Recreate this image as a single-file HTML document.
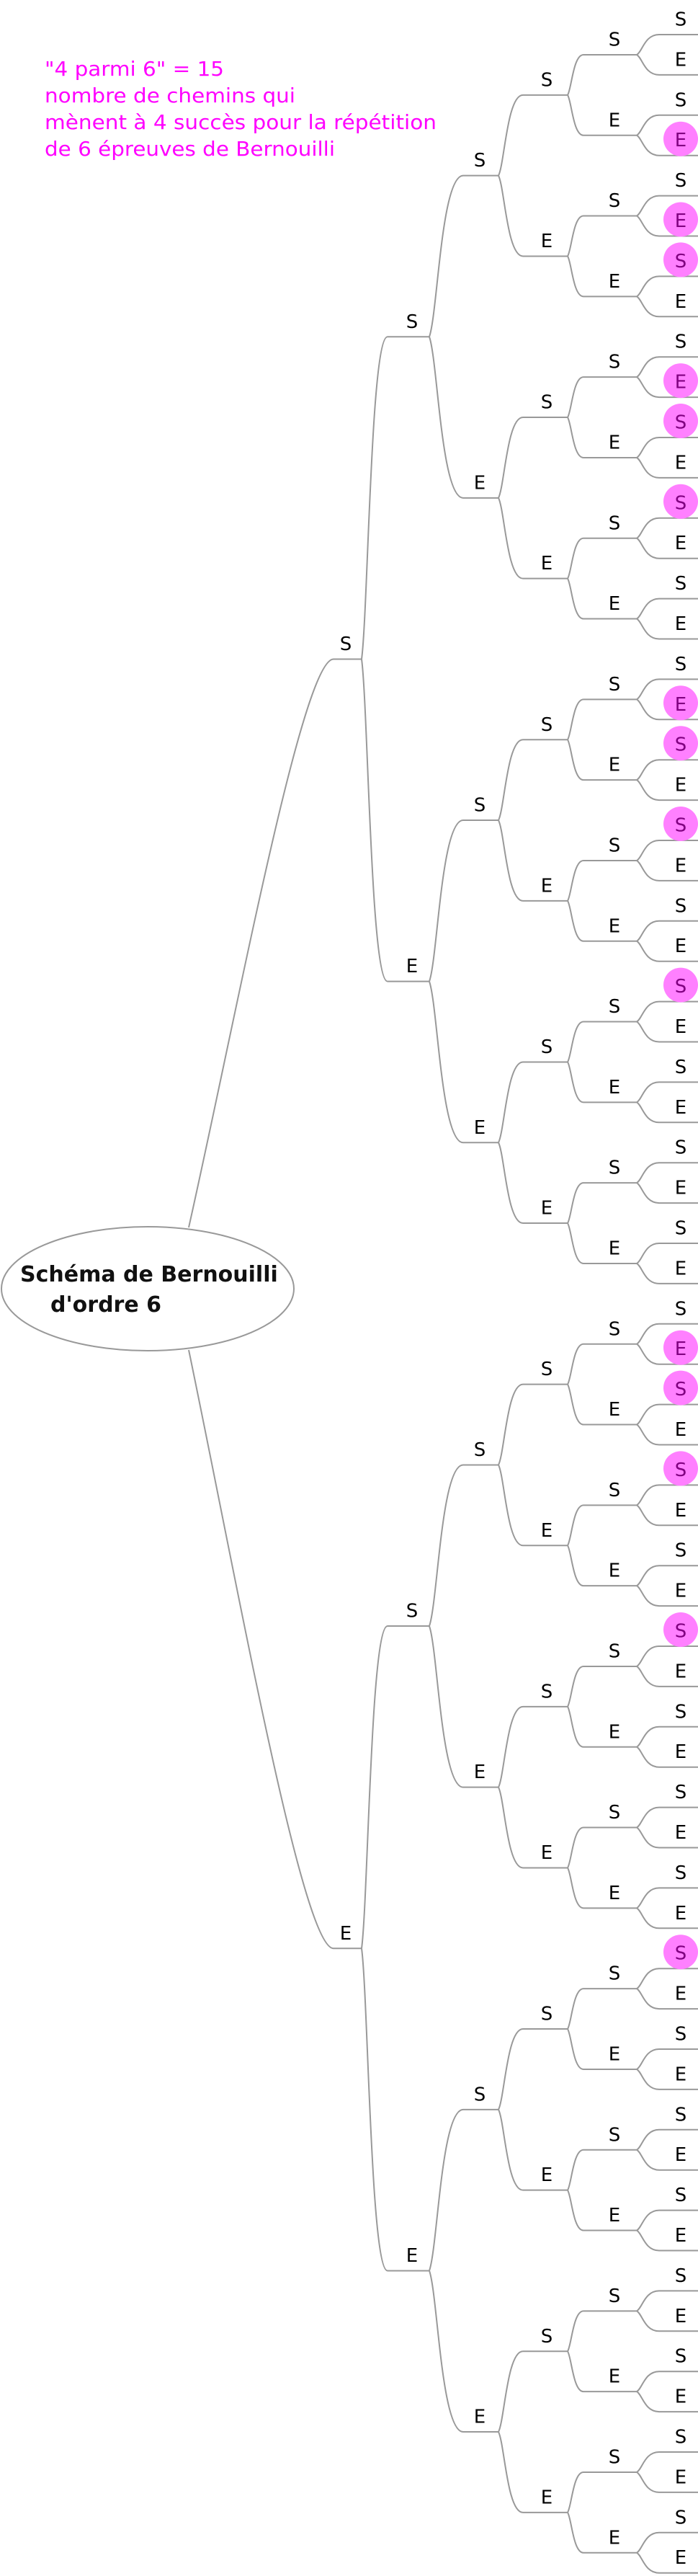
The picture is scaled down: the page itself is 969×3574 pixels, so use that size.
<!DOCTYPE html>
<html><head><meta charset="utf-8"><style>
html,body{margin:0;padding:0;background:#fff;}
svg{display:block;}
text{font-family:"DejaVu Sans","Liberation Sans",sans-serif;}
.l{font-size:26px;fill:#000;text-anchor:middle;}
.h{fill:#800080;}
.m{font-size:28px;fill:#ff00ff;}
</style></head><body>
<svg width="969" height="3574" viewBox="0 0 969 3574" xmlns="http://www.w3.org/2000/svg">
<defs>
<g id="g6"><path d="M915 0H969" fill="none" stroke="#999" stroke-width="2"/></g>
<g id="g5"><path d="M810 0H884M884 0c7.75 -4.19 10.85 -27.95 31 -27.95M884 0c7.75 4.19 10.85 27.95 31 27.95" fill="none" stroke="#999" stroke-width="2"/><use href="#g6" y="-27.95"/><use href="#g6" y="27.95"/></g>
<g id="g4"><path d="M726 0H788M788 0c5.5 -8.39 7.7 -55.9 22 -55.9M788 0c5.5 8.39 7.7 55.9 22 55.9" fill="none" stroke="#999" stroke-width="2"/><use href="#g5" y="-55.9"/><use href="#g5" y="55.9"/></g>
<g id="g3"><path d="M643 0H692M692 0c8.5 -16.77 11.9 -111.8 34 -111.8M692 0c8.5 16.77 11.9 111.8 34 111.8" fill="none" stroke="#999" stroke-width="2"/><use href="#g4" y="-111.8"/><use href="#g4" y="111.8"/></g>
<g id="g2"><path d="M538 0H596M596 0c11.75 -33.54 16.45 -223.6 47 -223.6M596 0c11.75 33.54 16.45 223.6 47 223.6" fill="none" stroke="#999" stroke-width="2"/><use href="#g3" y="-223.6"/><use href="#g3" y="223.6"/></g>
<g id="g1"><path d="M463 0H502M502 0c9 -67.08 12.6 -447.2 36 -447.2M502 0c9 67.08 12.6 447.2 36 447.2" fill="none" stroke="#999" stroke-width="2"/><use href="#g2" y="-447.2"/><use href="#g2" y="447.2"/></g>
</defs>
<use href="#g1" y="914.45"/>
<use href="#g1" y="2703.25"/>
<path d="M262 1703C330 1400 420 914.45 463 914.45M262 1873C330 2200 420 2703.25 463 2703.25" fill="none" stroke="#999" stroke-width="2"/>
<ellipse cx="205" cy="1788" rx="203" ry="86" fill="#fff" stroke="#999" stroke-width="2"/>
<text x="28" y="1778" style="font-size:30px;font-weight:bold;fill:#111;">Schéma de Bernouilli</text>
<text x="70" y="1820" style="font-size:30px;font-weight:bold;fill:#111;">d'ordre 6</text>

<text class="m" x="62" y="105" textLength="249" lengthAdjust="spacingAndGlyphs">"4 parmi 6" = 15</text>
<text class="m" x="62" y="142" textLength="348" lengthAdjust="spacingAndGlyphs">nombre de chemins qui</text>
<text class="m" x="62" y="179" textLength="544" lengthAdjust="spacingAndGlyphs">mènent à 4 succès pour la répétition</text>
<text class="m" x="62" y="216" textLength="403" lengthAdjust="spacingAndGlyphs">de 6 épreuves de Bernouilli</text>

<g fill="#ff80ff">
<circle cx="945" cy="192.7" r="24"/><circle cx="945" cy="304.5" r="24"/><circle cx="945" cy="360.4" r="24"/>
<circle cx="945" cy="528.1" r="24"/><circle cx="945" cy="584" r="24"/><circle cx="945" cy="695.8" r="24"/>
<circle cx="945" cy="975.3" r="24"/><circle cx="945" cy="1031.2" r="24"/><circle cx="945" cy="1143" r="24"/>
<circle cx="945" cy="1366.6" r="24"/><circle cx="945" cy="1869.7" r="24"/><circle cx="945" cy="1925.6" r="24"/>
<circle cx="945" cy="2037.4" r="24"/><circle cx="945" cy="2261" r="24"/><circle cx="945" cy="2708.2" r="24"/>
</g>

<text class="l" x="480" y="901.95">S</text>
<text class="l" x="480" y="2690.75">E</text>

<text class="l" x="572" y="454.75">S</text>
<text class="l" x="572" y="1349.15">E</text>
<text class="l" x="572" y="2243.55">S</text>
<text class="l" x="572" y="3137.95">E</text>

<text class="l" x="666" y="231.15">S</text>
<text class="l" x="666" y="678.35">E</text>
<text class="l" x="666" y="1125.55">S</text>
<text class="l" x="666" y="1572.75">E</text>
<text class="l" x="666" y="2019.95">S</text>
<text class="l" x="666" y="2467.15">E</text>
<text class="l" x="666" y="2914.35">S</text>
<text class="l" x="666" y="3361.55">E</text>

<text class="l" x="759" y="119.35">S</text>
<text class="l" x="759" y="342.95">E</text>
<text class="l" x="759" y="566.55">S</text>
<text class="l" x="759" y="790.15">E</text>
<text class="l" x="759" y="1013.75">S</text>
<text class="l" x="759" y="1237.35">E</text>
<text class="l" x="759" y="1460.95">S</text>
<text class="l" x="759" y="1684.55">E</text>
<text class="l" x="759" y="1908.15">S</text>
<text class="l" x="759" y="2131.75">E</text>
<text class="l" x="759" y="2355.35">S</text>
<text class="l" x="759" y="2578.95">E</text>
<text class="l" x="759" y="2802.55">S</text>
<text class="l" x="759" y="3026.15">E</text>
<text class="l" x="759" y="3249.75">S</text>
<text class="l" x="759" y="3473.35">E</text>

<text class="l" x="853" y="63.45">S</text>
<text class="l" x="853" y="175.25">E</text>
<text class="l" x="853" y="287.05">S</text>
<text class="l" x="853" y="398.85">E</text>
<text class="l" x="853" y="510.65">S</text>
<text class="l" x="853" y="622.45">E</text>
<text class="l" x="853" y="734.25">S</text>
<text class="l" x="853" y="846.05">E</text>
<text class="l" x="853" y="957.85">S</text>
<text class="l" x="853" y="1069.65">E</text>
<text class="l" x="853" y="1181.45">S</text>
<text class="l" x="853" y="1293.25">E</text>
<text class="l" x="853" y="1405.05">S</text>
<text class="l" x="853" y="1516.85">E</text>
<text class="l" x="853" y="1628.65">S</text>
<text class="l" x="853" y="1740.45">E</text>
<text class="l" x="853" y="1852.25">S</text>
<text class="l" x="853" y="1964.05">E</text>
<text class="l" x="853" y="2075.85">S</text>
<text class="l" x="853" y="2187.65">E</text>
<text class="l" x="853" y="2299.45">S</text>
<text class="l" x="853" y="2411.25">E</text>
<text class="l" x="853" y="2523.05">S</text>
<text class="l" x="853" y="2634.85">E</text>
<text class="l" x="853" y="2746.65">S</text>
<text class="l" x="853" y="2858.45">E</text>
<text class="l" x="853" y="2970.25">S</text>
<text class="l" x="853" y="3082.05">E</text>
<text class="l" x="853" y="3193.85">S</text>
<text class="l" x="853" y="3305.65">E</text>
<text class="l" x="853" y="3417.45">S</text>
<text class="l" x="853" y="3529.25">E</text>

<text class="l" x="945" y="35.5">S</text>
<text class="l" x="945" y="91.4">E</text>
<text class="l" x="945" y="147.3">S</text>
<text class="l h" x="945" y="203.2">E</text>
<text class="l" x="945" y="259.1">S</text>
<text class="l h" x="945" y="315">E</text>
<text class="l h" x="945" y="370.9">S</text>
<text class="l" x="945" y="426.8">E</text>
<text class="l" x="945" y="482.7">S</text>
<text class="l h" x="945" y="538.6">E</text>
<text class="l h" x="945" y="594.5">S</text>
<text class="l" x="945" y="650.4">E</text>
<text class="l h" x="945" y="706.3">S</text>
<text class="l" x="945" y="762.2">E</text>
<text class="l" x="945" y="818.1">S</text>
<text class="l" x="945" y="874">E</text>
<text class="l" x="945" y="929.9">S</text>
<text class="l h" x="945" y="985.8">E</text>
<text class="l h" x="945" y="1041.7">S</text>
<text class="l" x="945" y="1097.6">E</text>
<text class="l h" x="945" y="1153.5">S</text>
<text class="l" x="945" y="1209.4">E</text>
<text class="l" x="945" y="1265.3">S</text>
<text class="l" x="945" y="1321.2">E</text>
<text class="l h" x="945" y="1377.1">S</text>
<text class="l" x="945" y="1433">E</text>
<text class="l" x="945" y="1488.9">S</text>
<text class="l" x="945" y="1544.8">E</text>
<text class="l" x="945" y="1600.7">S</text>
<text class="l" x="945" y="1656.6">E</text>
<text class="l" x="945" y="1712.5">S</text>
<text class="l" x="945" y="1768.4">E</text>
<text class="l" x="945" y="1824.3">S</text>
<text class="l h" x="945" y="1880.2">E</text>
<text class="l h" x="945" y="1936.1">S</text>
<text class="l" x="945" y="1992">E</text>
<text class="l h" x="945" y="2047.9">S</text>
<text class="l" x="945" y="2103.8">E</text>
<text class="l" x="945" y="2159.7">S</text>
<text class="l" x="945" y="2215.6">E</text>
<text class="l h" x="945" y="2271.5">S</text>
<text class="l" x="945" y="2327.4">E</text>
<text class="l" x="945" y="2383.3">S</text>
<text class="l" x="945" y="2439.2">E</text>
<text class="l" x="945" y="2495.1">S</text>
<text class="l" x="945" y="2551">E</text>
<text class="l" x="945" y="2606.9">S</text>
<text class="l" x="945" y="2662.8">E</text>
<text class="l h" x="945" y="2718.7">S</text>
<text class="l" x="945" y="2774.6">E</text>
<text class="l" x="945" y="2830.5">S</text>
<text class="l" x="945" y="2886.4">E</text>
<text class="l" x="945" y="2942.3">S</text>
<text class="l" x="945" y="2998.2">E</text>
<text class="l" x="945" y="3054.1">S</text>
<text class="l" x="945" y="3110">E</text>
<text class="l" x="945" y="3165.9">S</text>
<text class="l" x="945" y="3221.8">E</text>
<text class="l" x="945" y="3277.7">S</text>
<text class="l" x="945" y="3333.6">E</text>
<text class="l" x="945" y="3389.5">S</text>
<text class="l" x="945" y="3445.4">E</text>
<text class="l" x="945" y="3501.3">S</text>
<text class="l" x="945" y="3557.2">E</text>
</svg>
</body></html>
